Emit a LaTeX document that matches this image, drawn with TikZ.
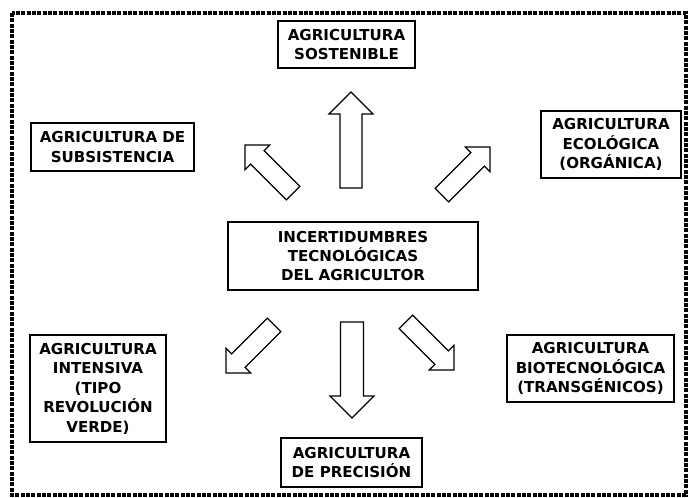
\documentclass[tikz,border=0pt]{standalone}
\usepackage{fontspec}
\setmainfont{DejaVu Sans}
\usepackage{tikz}
\usetikzlibrary{positioning}

% block arrow: tip, angle, length, head, half shaft
\newcommand{\bigarrow}[5]{%
  \draw[arrowline, shift={(#1)}, rotate=#2] (0,0) -- (-#4,#4) -- (-#4,#5) --
    (-#3,#5) -- (-#3,-#5) -- (-#4,-#5) -- (-#4,-#4) -- cycle;}

\begin{document}
\begin{tikzpicture}[
    x=0.75pt, y=-0.75pt,
    box/.style={rectangle, draw=black, line width=1.1pt, fill=white, align=center,
                inner sep=2pt, font=\fontsize{11.3}{14.6}\selectfont\bfseries},
    arrowline/.style={draw=black, line width=0.9pt, fill=white, line join=miter},
    frame/.style={line width=2.6pt, dash pattern=on 3pt off 1pt}
]
\useasboundingbox (0,0) rectangle (689,497);
\draw[frame] (12,13) rectangle (686,495);

\node[box, minimum width=187.5pt, minimum height=51pt] (incert) at (353,256)
    {INCERTIDUMBRES\\TECNOLÓGICAS\\DEL AGRICULTOR};
\node[box, minimum width=102.75pt, minimum height=35.25pt] (sost) at (346.5,44.5)
    {AGRICULTURA\\SOSTENIBLE};
\node[box, minimum width=122.25pt, minimum height=36pt] (subs) at (112.5,147)
    {AGRICULTURA DE\\SUBSISTENCIA};
\node[box, minimum width=105pt, minimum height=50.25pt] (eco) at (611,144.5)
    {AGRICULTURA\\ECOLÓGICA\\(ORGÁNICA)};
\node[box, minimum width=102pt, minimum height=80.25pt] (inten) at (98,388.5)
    {AGRICULTURA\\INTENSIVA\\(TIPO\\REVOLUCIÓN\\VERDE)};
\node[box, minimum width=105.75pt, minimum height=36.75pt] (prec) at (351.5,462.5)
    {AGRICULTURA\\DE PRECISIÓN};
\node[box, minimum width=125.25pt, minimum height=50.25pt] (bio) at (590.5,368.5)
    {AGRICULTURA\\BIOTECNOLÓGICA\\(TRANSGÉNICOS)};

% arrow tips
\coordinate (tipSost) at (351,92);
\coordinate (tipPrec) at (352,418);
\coordinate (tipSubs) at (245,145);
\coordinate (tipEco) at (490,147);
\coordinate (tipInten) at (226,373);
\coordinate (tipBio) at (454,370);

\bigarrow{tipSost}{90}{96}{22}{11}
\bigarrow{tipPrec}{270}{96}{22}{11.5}
\bigarrow{tipSubs}{135}{68}{17.5}{9.5}
\bigarrow{tipEco}{45}{68}{17.5}{9.5}
\bigarrow{tipInten}{225}{68}{17.5}{9.5}
\bigarrow{tipBio}{315}{68}{17.5}{9.5}
\end{tikzpicture}
\end{document}
